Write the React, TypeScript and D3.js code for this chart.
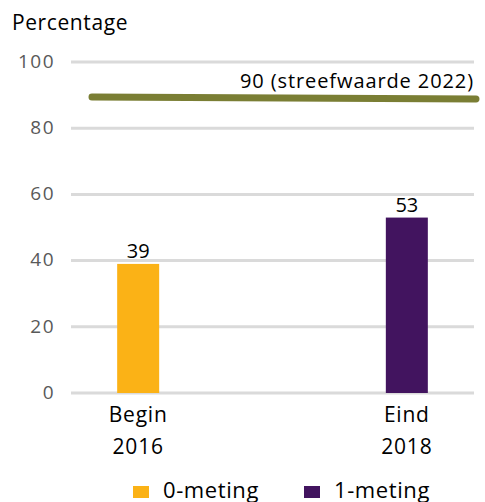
import * as d3 from "d3";

const categories = ["Begin\n2016", "Eind\n2018"];
const seriesNames = ["0-meting", "1-meting"];
const values = [39, 53];
const colors = ["#fbb216", "#42145f"];
const yTicks = [0, 20, 40, 60, 80, 100];
const targetValue = 90;
const targetLabel = "90 (streefwaarde 2022)";

const App: React.FC = () => {
    const width = 485;
    const height = 502;
    const font = "'Open Sans', sans-serif";
    const y = d3.scaleLinear([0, 100], [393, 62]);
    const x = d3.scalePoint(categories, [71, 474]).padding(0.25);
    const barW = 42;
    return (
        <svg width={width} height={height} style={{ position: "absolute", left: 0, top: 0 }} fontFamily={font}>
            <text x={12} y={30} fontSize={21} letterSpacing={0.6} fill="#000">Percentage</text>
            <g>
                {yTicks.map(t => (
                    <g key={t}>
                        <line x1={71} x2={474} y1={y(t)} y2={y(t)} stroke="#dadada" strokeWidth={3} />
                        <text x={55} y={y(t)} dy="0.3em" textAnchor="end" fontSize={19} letterSpacing={1.5} fill="#595959">{t}</text>
                    </g>
                ))}
            </g>
            {categories.map((c, i) => (
                <g key={c}>
                    <rect x={x(c)! - barW / 2} y={y(values[i])} width={barW} height={y(0) - y(values[i])} fill={colors[i]} />
                    <text x={x(c)} y={y(values[i]) - 6} textAnchor="middle" fontSize={20} fill="#000">{values[i]}</text>
                    {c.split("\n").map((line, j) => (
                        <text key={j} x={x(c)} y={422 + j * 32} textAnchor="middle" fontSize={21} letterSpacing={0.8} fill="#000">{line}</text>
                    ))}
                </g>
            ))}
            <line x1={92} x2={476} y1={y(targetValue) + 2} y2={y(targetValue) + 4} stroke="#7a7e34" strokeWidth={7} strokeLinecap="round" />
            <text x={474} y={88} textAnchor="end" fontSize={20} letterSpacing={0.9} fill="#000">{targetLabel}</text>
            <g>
                {seriesNames.map((s, i) => (
                    <g key={s} transform={`translate(${133 + i * 171},0)`}>
                        <rect x={0} y={486} width={16} height={12} fill={colors[i]} />
                        <text x={30} y={498} fontSize={22} letterSpacing={0.6} fill="#000">{s}</text>
                    </g>
                ))}
            </g>
        </svg>
    );
};

export default App;
